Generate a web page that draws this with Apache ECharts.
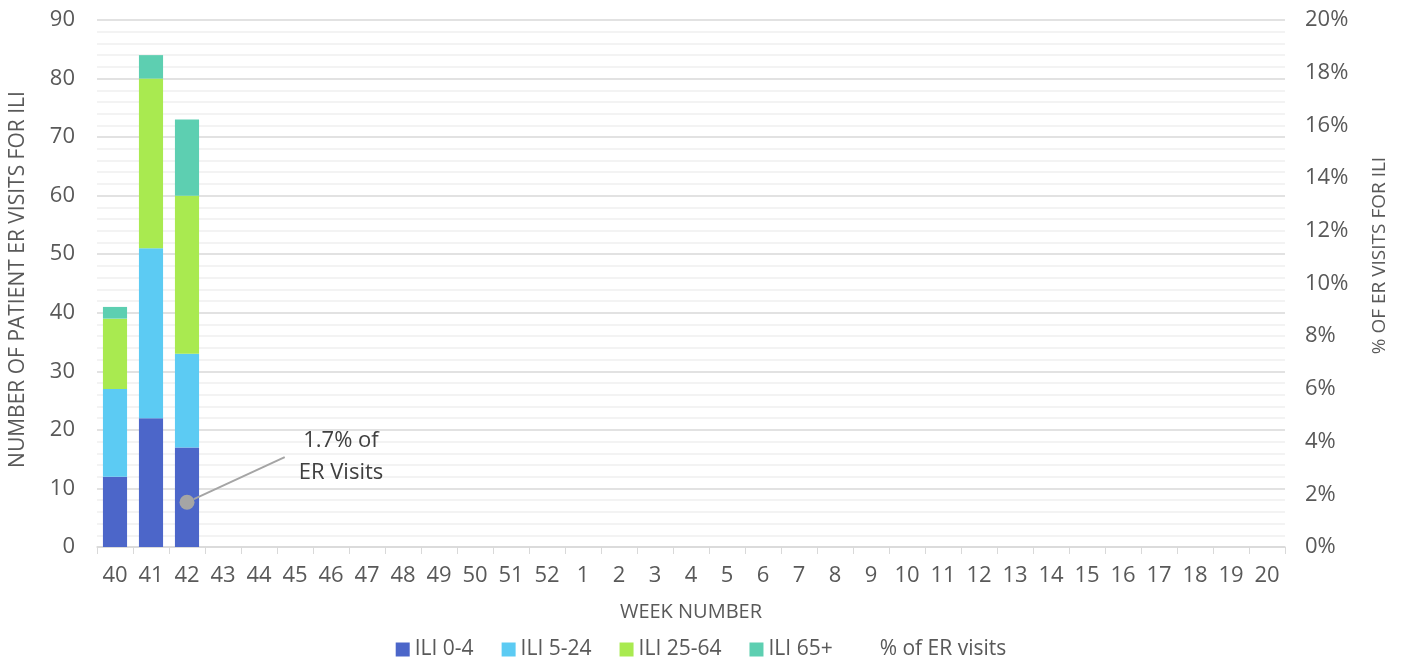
<!DOCTYPE html>
<html>
<head>
<meta charset="utf-8">
<script src="https://cdn.jsdelivr.net/npm/echarts@6/dist/echarts.min.js"></script>
<style>
  html, body { margin: 0; padding: 0; background: #ffffff; }
  #chart { width: 1402px; height: 661px; }
</style>
</head>
<body>
<div id="chart"></div>
<script>
// week numbers on the x axis
const weeks = ['40','41','42','43','44','45','46','47','48','49','50','51','52',
  '1','2','3','4','5','6','7','8','9','10','11','12','13','14','15','16','17','18','19','20'];

// patient ER visits for ILI, by age group
const ili0to4   = [12, 22, 17];
const ili5to24  = [15, 29, 16];
const ili25to64 = [12, 29, 27];
const ili65plus = [2, 4, 13];

// % of ER visits for ILI
const pctErVisits = [null, null, 0.017];

const barNames  = ['ILI 0-4', 'ILI 5-24', 'ILI 25-64', 'ILI 65+'];
const barData   = [ili0to4, ili5to24, ili25to64, ili65plus];
const barColors = ['#4c66c9', '#5ccbf3', '#a9ea50', '#5dcfb1'];

const textColor = '#595959';
const font = 'Open Sans';

const chart = echarts.init(document.getElementById('chart'));

const series = barNames.map((name, i) => ({
  name: name,
  type: 'bar',
  stack: 'ili',
  barCategoryGap: '33%',
  itemStyle: { color: barColors[i] },
  data: barData[i]
}));

series.push({
  name: '% of ER visits',
  type: 'line',
  yAxisIndex: 1,
  symbol: 'circle',
  symbolSize: 15,
  itemStyle: { color: '#a5a5a5' },
  lineStyle: { width: 0 },
  data: pctErVisits,
  label: {
    show: true,
    position: 'inside',
    formatter: '1.7% of\nER Visits',
    fontFamily: font,
    fontSize: 22,
    lineHeight: 32,
    color: '#404040',
    align: 'center',
    padding: [0, 0, 0, 14]
  },
  labelLayout: { dx: 147, dy: -45 },
  labelLine: { show: true, lineStyle: { color: '#a5a5a5', width: 2 } },
  z: 5
});

chart.setOption({
  animation: false,
  textStyle: { fontFamily: font },
  grid: { left: 97, right: 117, top: 20, bottom: 114 },
  legend: {
    top: 634,
    left: 'center',
    itemWidth: 14,
    itemHeight: 14,
    itemGap: 28,
    textStyle: { color: textColor, fontSize: 21, fontFamily: font },
    data: [
      { name: 'ILI 0-4', icon: 'rect' },
      { name: 'ILI 5-24', icon: 'rect' },
      { name: 'ILI 25-64', icon: 'rect' },
      { name: 'ILI 65+', icon: 'rect' },
      { name: '% of ER visits', icon: 'rect', itemStyle: { opacity: 0 } }
    ]
  },
  xAxis: {
    type: 'category',
    data: weeks,
    name: 'WEEK NUMBER',
    nameLocation: 'middle',
    nameGap: 55,
    nameTextStyle: { color: textColor, fontSize: 20, fontFamily: font },
    axisLine: { lineStyle: { color: '#d9d9d9', width: 1.5 } },
    axisTick: { show: true, length: 7, lineStyle: { color: '#d9d9d9' } },
    axisLabel: { color: textColor, fontSize: 22, margin: 18, fontFamily: font }
  },
  yAxis: [
    {
      type: 'value',
      min: 0,
      max: 90,
      interval: 10,
      name: 'NUMBER OF PATIENT ER VISITS FOR ILI',
      nameLocation: 'middle',
      nameGap: 68,
      nameTextStyle: { color: textColor, fontSize: 21, fontFamily: font, padding: [0, 0, 0, 8] },
      axisLine: { show: false },
      axisTick: { show: false },
      axisLabel: { color: textColor, fontSize: 22, margin: 22, fontFamily: font },
      splitLine: { lineStyle: { color: '#d9d9d9', width: 1.5 } },
      minorTick: { show: false, splitNumber: 5 },
      minorSplitLine: { show: true, lineStyle: { color: '#f0f0f0', width: 1.5 } }
    },
    {
      type: 'value',
      min: 0,
      max: 0.2,
      interval: 0.02,
      name: '% OF ER VISITS FOR ILI',
      nameLocation: 'middle',
      nameGap: 85,
      nameTextStyle: { color: textColor, fontSize: 19, fontFamily: font, padding: [0, 0, 0, 56] },
      axisLine: { show: false },
      axisTick: { show: false },
      splitLine: { show: false },
      axisLabel: {
        color: textColor,
        fontSize: 22,
        margin: 20,
        fontFamily: font,
        formatter: v => Math.round(v * 100) + '%'
      }
    }
  ],
  series: series
});
</script>
</body>
</html>
